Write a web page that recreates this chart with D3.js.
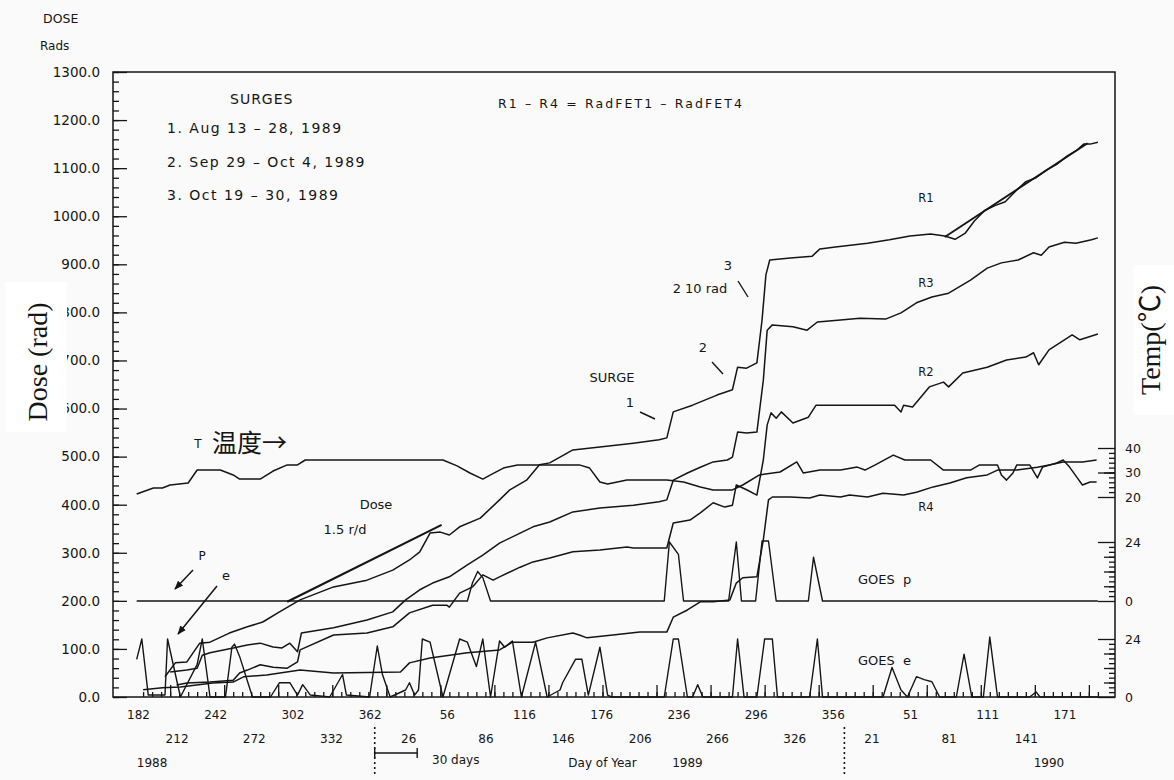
<!DOCTYPE html>
<html>
<head>
<meta charset="utf-8">
<script src="https://cdn.jsdelivr.net/npm/d3@7"></script>
<style>
  body { margin: 0; background: #fafafa; }
  svg text { fill: #151515; }
</style>
</head>
<body>
<div id="chart"></div>
<script>
// day index: 1988 day-of-year as is, 1989 = 366 + doy, 1990 = 731 + doy
const dayTicks = d3.range(182, 903, 30);
const weekTicks = d3.range(186, 930, 7);
const doseTicks = d3.range(0, 1301, 100);
const yearLabels = [["1988", 193], ["1989", 609], ["1990", 890]];
const surgeLines = ["1. Aug 13 \u2013 28, 1989", "2. Sep 29 \u2013 Oct 4, 1989", "3. Oct 19 \u2013 30, 1989"];

// dose, rad
const r1 = [[203,42],[211,71],[220,73],[230,112],[238,114],[253,133],[267,146],[279,156],[292,177],[308,202],[334,229],[360,243],[380,264],[393,285],[401,302],[409,341],[417,343],[424,337],[432,354],[448,372],[463,410],[471,431],[484,451],[494,483],[502,487],[520,514],[541,520],[567,528],[587,535],[593,539],[598,593],[613,607],[632,628],[644,639],[648,686],[655,684],[663,695],[667,784],[670,878],[673,909],[689,913],[706,917],[712,932],[724,936],[749,944],[766,951],[782,959],[798,963],[809,959],[817,952],[825,965],[832,990],[840,1012],[848,1022],[856,1030],[864,1052],[872,1072],[880,1080],[888,1096],[896,1108],[904,1125],[912,1138],[917,1150],[922,1150],[928,1154]];
const r3 = [[207,52],[220,56],[228,60],[232,87],[238,92],[256,102],[267,108],[277,112],[287,104],[294,102],[300,112],[306,94],[309,133],[334,144],[360,160],[380,177],[390,202],[401,223],[411,237],[424,250],[438,275],[450,295],[463,320],[479,341],[489,354],[502,364],[520,385],[541,393],[567,399],[587,406],[593,410],[598,451],[609,466],[619,478],[629,489],[640,493],[644,499],[648,551],[655,549],[663,551],[668,659],[671,763],[675,774],[691,770],[702,763],[710,780],[728,784],[743,788],[763,786],[775,799],[787,820],[799,832],[812,840],[829,867],[842,892],[853,903],[866,909],[878,924],[884,919],[890,936],[902,946],[911,944],[923,951],[928,955]];
const r2 = [[212,25],[220,29],[238,31],[256,35],[261,50],[267,56],[277,67],[287,62],[298,60],[306,73],[308,98],[334,129],[360,133],[380,146],[393,175],[411,191],[422,191],[424,187],[432,216],[442,229],[450,254],[458,243],[463,250],[479,270],[489,281],[502,289],[520,302],[541,306],[562,312],[567,310],[593,310],[598,362],[611,368],[619,383],[629,404],[638,395],[644,399],[647,441],[655,431],[663,420],[668,493],[671,566],[674,591],[678,580],[682,593],[691,570],[703,582],[709,607],[721,607],[770,607],[775,593],[777,607],[784,603],[797,645],[808,655],[812,645],[823,674],[842,686],[857,701],[872,707],[878,716],[882,691],[890,722],[908,753],[914,743],[928,755]];
const r4 = [[186,15],[201,19],[215,21],[240,29],[256,31],[264,42],[282,46],[308,56],[334,50],[386,52],[393,71],[409,81],[438,92],[463,98],[473,114],[489,114],[500,123],[520,133],[525,129],[531,123],[551,129],[572,135],[593,135],[598,166],[609,181],[619,198],[629,198],[642,202],[647,237],[652,248],[663,250],[668,327],[672,410],[675,416],[689,416],[704,414],[712,420],[728,416],[735,420],[749,416],[761,424],[777,420],[787,426],[800,437],[813,445],[826,456],[842,462],[850,472],[865,472],[881,478],[891,483],[901,489],[916,489],[927,493]];
const doseFit = [[298,198],[418,358]];
const r1Fit = [[809,957],[920,1152]];

// temperature, deg C
const temp = [[181,21.2],[194,23.7],[201,23.7],[207,24.9],[221,25.7],[228,31.0],[246,31.0],[256,29.0],[261,27.3],[277,27.3],[287,30.6],[298,33.1],[306,33.1],[312,35.1],[419,35.1],[430,32.7],[440,29.8],[450,27.3],[456,29.0],[466,31.8],[477,33.1],[525,33.1],[533,31.8],[541,26.1],[547,25.3],[562,26.9],[593,26.9],[606,26.1],[619,24.1],[629,22.9],[644,22.9],[652,24.9],[665,29.0],[681,30.2],[694,34.3],[699,29.8],[712,31.0],[728,31.0],[741,32.2],[747,31.0],[755,33.1],[769,37.1],[778,35.1],[798,35.1],[808,31.0],[829,31.0],[836,33.1],[850,33.1],[853,29.0],[857,26.9],[862,29.8],[865,33.1],[875,33.1],[881,27.8],[885,32.2],[896,33.9],[901,35.1],[906,32.2],[912,27.8],[916,24.9],[922,26.1],[927,26.1]];

// GOES proton and electron flux
const goesP = [[181,0],[438,0],[442,7.4],[446,12.0],[450,9.5],[456,0],[591,0],[595,24.0],[602,19.0],[606,0],[641,0],[647,24.0],[651,0],[662,0],[667,24.4],[672,24.4],[678,0],[703,0],[707,17.8],[714,0],[928,0]];
const goesE = [[181,15.6],[185,24],[190,0.8],[203,0.8],[205,24],[215,0],[228,13.5],[232,24],[238,0],[250,0],[255,20.6],[257,21.9],[261,16.8],[271,0],[285,0],[292,5.9],[300,5.9],[306,0.8],[310,5.1],[316,0.8],[331,0],[341,9.3],[344,0.8],[362,0],[368,21.1],[372,9.3],[378,0],[390,2.9],[393,5.9],[397,0.8],[400,2.9],[403,24],[409,22.7],[419,0],[432,24],[438,22.7],[445,12.6],[450,24],[456,0],[463,23.2],[467,20.6],[473,23.2],[480,0],[491,22.7],[500,0],[510,2.9],[512,5.9],[522,15.6],[527,15.6],[532,0.8],[541,20.6],[547,0.8],[550,0],[591,0],[598,24],[602,24],[609,0],[613,0],[617,5.1],[621,0],[644,0],[648,24],[653,0],[663,0],[669,24],[675,24],[679,0],[704,0],[710,24],[714,0],[761,0],[768,12.2],[775,2.9],[780,0],[787,8.4],[793,7.2],[799,6.3],[805,0],[818,0],[824,17.7],[830,0],[839,0],[844,24.8],[850,0],[875,0],[880,2.1],[883,0],[928,0]];

const M = { left: 113, right: 1115, top: 72, bottom: 697 };
const ink = "#151515";
const sans = "DejaVu Sans, sans-serif";

const svg = d3.select("#chart").append("svg").attr("width", 1174).attr("height", 780);
svg.append("rect").attr("width", 1174).attr("height", 780).attr("fill", "#fafafa");

const x = d3.scaleLinear().domain([162.6, 941.3]).range([M.left, M.right]);
const y = d3.scaleLinear().domain([0, 1300]).range([M.bottom, M.top]);
const yT = d3.scaleLinear().domain([20, 40]).range([497, 448]);
const yP = d3.scaleLinear().domain([0, 24]).range([601, 542]);
const yE = d3.scaleLinear().domain([0, 24]).range([697, 639]);

const doy = d => d > 731 ? d - 731 : d > 366 ? d - 366 : d;

function styleAxis(g, size) {
  g.select(".domain").remove();
  g.selectAll(".tick line").attr("stroke", ink).attr("stroke-width", 1.3);
  g.selectAll(".tick text").attr("font-size", size || 12).attr("fill", ink)
    .style("font-family", sans);
}

// left dose axis
svg.append("g").attr("transform", `translate(${M.left},0)`)
  .call(d3.axisLeft(y).tickValues(doseTicks).tickSize(-14).tickPadding(13).tickFormat(d3.format(".1f")))
  .call(g => styleAxis(g, 13.5));
svg.append("g").attr("transform", `translate(${M.left},0)`)
  .call(d3.axisLeft(y).tickValues(d3.range(0, 1301, 20)).tickSize(-6).tickFormat(""))
  .call(g => styleAxis(g));

// bottom axis: two rows of day-of-year labels + weekly ticks
svg.append("g").attr("transform", `translate(0,${M.bottom})`)
  .call(d3.axisBottom(x).tickValues(dayTicks.filter((d, i) => i % 2 === 0)).tickSize(0).tickPadding(13).tickFormat(doy))
  .call(g => styleAxis(g));
svg.append("g").attr("transform", `translate(0,${M.bottom})`)
  .call(d3.axisBottom(x).tickValues(dayTicks.filter((d, i) => i % 2 === 1)).tickSize(0).tickPadding(37).tickFormat(doy))
  .call(g => styleAxis(g));
svg.append("g").attr("transform", `translate(0,${M.bottom})`)
  .call(d3.axisBottom(x).tickValues(weekTicks).tickSize(-5).tickFormat(""))
  .call(g => styleAxis(g));
svg.append("g").attr("transform", `translate(0,${M.bottom})`)
  .call(d3.axisBottom(x).tickValues(weekTicks.filter((d, i) => i % 6 === 3)).tickSize(-12).tickFormat(""))
  .call(g => styleAxis(g));

// right axes: temperature, GOES p, GOES e
function rightAxis(scale, major, minor, mid) {
  svg.append("g").attr("transform", `translate(${M.right},0)`)
    .call(d3.axisRight(scale).tickValues(minor).tickSize(-6).tickFormat(""))
    .call(g => styleAxis(g));
  svg.append("g").attr("transform", `translate(${M.right},0)`)
    .call(d3.axisRight(scale).tickValues(mid).tickSize(-11).tickFormat(""))
    .call(g => styleAxis(g));
  svg.append("g").attr("transform", `translate(${M.right},0)`)
    .call(d3.axisRight(scale).tickValues(major).tickSize(-17).tickPadding(10).tickFormat(d3.format("d")))
    .call(g => styleAxis(g, 12.5));
}
rightAxis(yT, [20, 30, 40], d3.range(22, 40, 2), [30]);
rightAxis(yP, [0, 24], d3.range(2, 24, 2), [6, 12, 18]);
rightAxis(yE, [0, 24], d3.range(2, 24, 2), [6, 12, 18]);

// frame
svg.append("rect").attr("x", M.left).attr("y", M.top)
  .attr("width", M.right - M.left).attr("height", M.bottom - M.top)
  .attr("fill", "none").attr("stroke", ink).attr("stroke-width", 1.5);

// data lines
const doseLine = d3.line().x(d => x(d[0])).y(d => y(d[1]));
const tempLine = d3.line().x(d => x(d[0])).y(d => yT(d[1]));
const pLine = d3.line().x(d => x(d[0])).y(d => yP(d[1]));
const eLine = d3.line().x(d => x(d[0])).y(d => yE(d[1]));

const plot = svg.append("g").attr("fill", "none").attr("stroke", ink)
  .attr("stroke-width", 1.5).attr("stroke-linejoin", "round");
plot.append("path").attr("d", eLine(goesE)).attr("stroke-width", 1.4);
plot.append("path").attr("d", pLine(goesP)).attr("stroke-width", 1.4);
plot.append("path").attr("d", tempLine(temp));
[r4, r2, r3, r1].forEach(s => plot.append("path").attr("d", doseLine(s)));
plot.append("path").attr("d", doseLine(doseFit)).attr("stroke-width", 2.2);
plot.append("path").attr("d", doseLine(r1Fit)).attr("stroke-width", 1.8);

// year separators and 30 day bar
[366, 731].forEach(d => svg.append("line")
  .attr("x1", x(d)).attr("x2", x(d)).attr("y1", 727).attr("y2", 776)
  .attr("stroke", ink).attr("stroke-width", 1.6).attr("stroke-dasharray", "2,3"));
const bar = svg.append("g").attr("stroke", ink).attr("stroke-width", 1.4);
bar.append("line").attr("x1", x(366)).attr("x2", x(399)).attr("y1", 753).attr("y2", 753);
[366, 399].forEach(d => bar.append("line").attr("x1", x(d)).attr("x2", x(d)).attr("y1", 748).attr("y2", 758));

// text
function label(t, px, py, size, anchor, extra) {
  const el = svg.append("text").attr("x", px).attr("y", py).attr("font-size", size)
    .attr("text-anchor", anchor || "start").style("font-family", sans).text(t);
  if (extra) extra(el);
  return el;
}
label("DOSE", 43, 23, 12.5);
label("Rads", 40, 50, 12);
label("SURGES", 230, 104, 14, "start", e => e.attr("letter-spacing", 1));
surgeLines.forEach((t, i) => label(t, 167, 133 + i * 33.5, 14, "start", e => e.attr("letter-spacing", 1.5)));
label("R1 \u2013 R4 = RadFET1 \u2013 RadFET4", 498, 108, 12.5, "start", e => e.attr("letter-spacing", 2.1));
yearLabels.forEach(([t, d]) => label(t, x(d), 767, 12, "middle"));
label("Day of Year", x(543), 767, 12, "middle");
label("30 days", 432, 764, 12);
label("R1", 926, 202, 11.5, "middle");
label("R3", 926, 287, 11.5, "middle");
label("R2", 926, 376, 11.5, "middle");
label("R4", 926, 511, 11.5, "middle");
label("SURGE", 612, 382, 13, "middle");
label("1", 630, 407, 13, "middle");
label("2", 703, 352, 13, "middle");
label("3", 728, 270, 13, "middle");
label("2 10 rad", 700, 293, 13, "middle");
label("Dose", 376, 509, 13, "middle");
label("1.5 r/d", 345, 534, 13, "middle");
label("P", 202, 560, 12, "middle");
label("e", 226, 580, 13, "middle");
label("GOES  p", 858, 584, 13, "start", e => e.style("white-space", "pre"));
label("GOES  e", 858, 665, 13, "start", e => e.style("white-space", "pre"));
label("T", 198, 448, 12, "middle");
label("\u6e29\u5ea6\u2192", 212, 452, 25, "start", e => e.style("font-family", "Noto Sans CJK SC, sans-serif"));

const pointers = svg.append("g").attr("stroke", ink).attr("stroke-width", 1.4);
[[640, 412, 655, 419], [712, 362, 723, 374], [738, 281, 748, 297]].forEach(p =>
  pointers.append("line").attr("x1", p[0]).attr("y1", p[1]).attr("x2", p[2]).attr("y2", p[3]));

// arrows for p and e
svg.append("defs").append("marker").attr("id", "ah").attr("viewBox", "0 0 10 10")
  .attr("refX", 9).attr("refY", 5).attr("markerWidth", 9).attr("markerHeight", 9)
  .attr("orient", "auto").attr("markerUnits", "userSpaceOnUse")
  .append("path").attr("d", "M0,1 L10,5 L0,9 Z").attr("fill", ink);
[[193, 570, 175, 589], [217, 586, 178, 634]].forEach(a =>
  svg.append("line").attr("x1", a[0]).attr("y1", a[1]).attr("x2", a[2]).attr("y2", a[3])
    .attr("stroke", ink).attr("stroke-width", 1.5).attr("marker-end", "url(#ah)"));

// axis titles on white patches
svg.append("rect").attr("x", 5).attr("y", 282).attr("width", 62).attr("height", 150).attr("fill", "#fff");
svg.append("text").attr("transform", "translate(47,362) rotate(-90)").attr("text-anchor", "middle")
  .style("font-family", "Liberation Serif, serif").attr("font-size", 28).text("Dose (rad)");
svg.append("rect").attr("x", 1133).attr("y", 265).attr("width", 41).attr("height", 150).attr("fill", "#fff");
svg.append("text").attr("transform", "translate(1160,340) rotate(-90)").attr("text-anchor", "middle")
  .style("font-family", "Liberation Serif, Noto Sans CJK SC, serif").attr("font-size", 28).text("Temp(\u2103)");
</script>
</body>
</html>
